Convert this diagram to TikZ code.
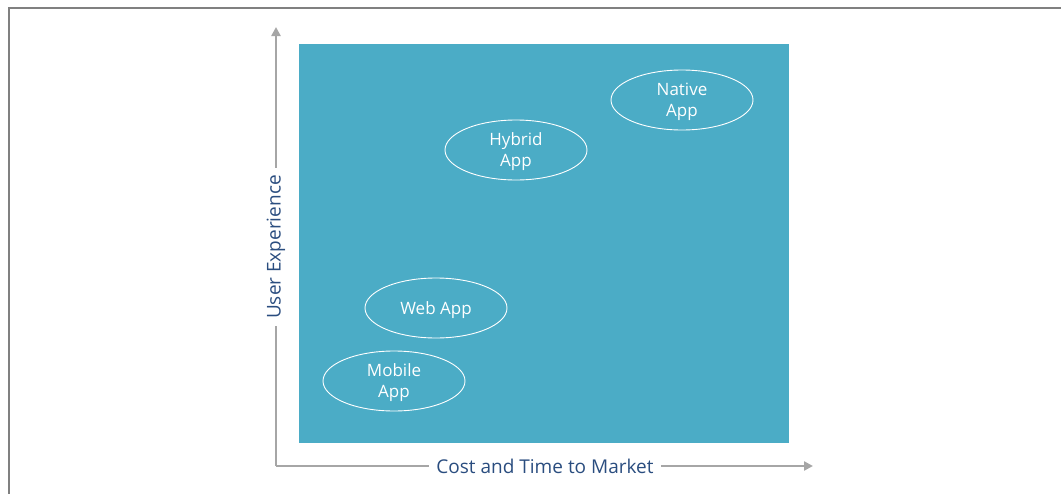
\documentclass[tikz,border=0pt]{standalone}
\usepackage{fontspec}
\setmainfont{Open Sans}
\usepackage{xcolor}
\usepackage{tikz}
\usetikzlibrary{arrows.meta,shapes.geometric}

\definecolor{panelblue}{HTML}{4BACC6}
\definecolor{axisgray}{HTML}{A6A6A6}
\definecolor{labelblue}{HTML}{2A4D7F}

\begin{document}
\begin{tikzpicture}[x=1pt, y=-1pt,
        app/.style={ellipse, draw=white, line width=0.9pt, text=white, minimum width=142pt, minimum height=60pt, inner sep=0pt, text depth=0pt, align=center, font=\fontsize{17}{21}\selectfont},
        axislabel/.style={text=labelblue, inner sep=7pt, font=\fontsize{19}{22}\selectfont},
        axisline/.style={draw=axisgray, line width=2.6pt}]
            \useasboundingbox (0,0) rectangle (1061,493);
            % Frame
            \draw[gray, line width=2pt] (9,500) -- (9,8) -- (1070,8);
            \fill[panelblue] (299,44) rectangle (789,443);

            % Nodes
            \node[app] (native) at (682,100) {Native\\App};
            \node[app] (hybrid) at (516,150) {Hybrid\\App};
            \node[app] (web) at (436,308) {Web App};
            \node[app] (mobile) at (394,381) {Mobile\\App};
            \coordinate (origin) at (276,466);
            \coordinate (ytip) at (276,27);
            \coordinate (xtip) at (813,466);
            \node[axislabel, rotate=90] (ylabel) at (276,247) {User Experience};
            \node[axislabel] (xlabel) at (545,466) {Cost and Time to Market};

            % Axes
            \draw[axisline] (origin) -- (ylabel.west);
            \draw[axisline, -{Triangle[length=9pt, width=9pt]}] (ylabel.east) -- (ytip);
            \draw[axisline] (origin) -- (xlabel.west);
            \draw[axisline, -{Triangle[length=9pt, width=9pt]}] (xlabel.east) -- (xtip);
        \end{tikzpicture}
\end{document}
